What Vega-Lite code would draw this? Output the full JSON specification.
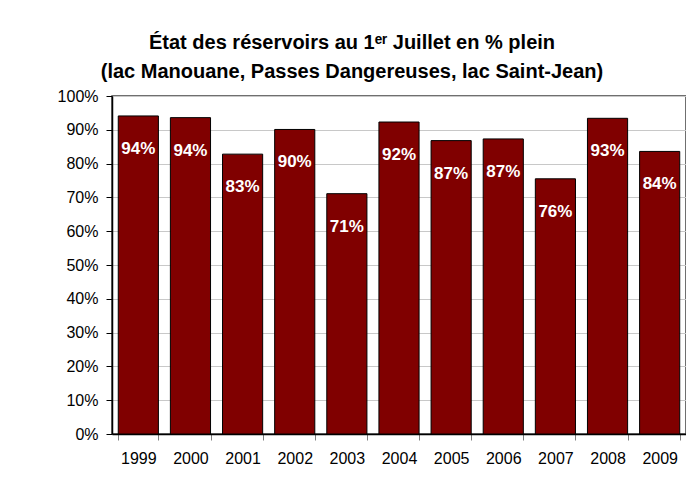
{
  "$schema": "https://vega.github.io/schema/vega-lite/v6.json",
  "autosize": "none",
  "padding": {"left": 112, "top": 96, "right": 0, "bottom": 46},
  "width": 574,
  "height": 338,
  "background": "white",
  "title": {
    "text": ["État des réservoirs au 1ᵉʳ Juillet en % plein", "(lac Manouane, Passes Dangereuses, lac Saint-Jean)"],
    "font": "Liberation Sans",
    "fontSize": 20,
    "fontWeight": "bold",
    "color": "black",
    "lineHeight": 29,
    "anchor": "middle",
    "dx": -47,
    "offset": 6
  },
  "data": {
    "values": [
      {"year": "1999", "value": 0.941},
      {"year": "2000", "value": 0.936},
      {"year": "2001", "value": 0.828},
      {"year": "2002", "value": 0.901},
      {"year": "2003", "value": 0.711},
      {"year": "2004", "value": 0.923},
      {"year": "2005", "value": 0.868},
      {"year": "2006", "value": 0.873},
      {"year": "2007", "value": 0.755},
      {"year": "2008", "value": 0.934},
      {"year": "2009", "value": 0.836}
    ]
  },
  "encoding": {
    "x": {
      "field": "year",
      "type": "ordinal",
      "title": null,
      "scale": {"paddingInner": 0.23, "paddingOuter": 0.12},
      "axis": {
        "tickBand": "extent",
        "labelAngle": 0,
        "labelFont": "Liberation Sans",
        "labelFontSize": 16,
        "labelColor": "black",
        "labelPadding": 10,
        "tickColor": "#808080",
        "tickSize": 6,
        "domainColor": "black",
        "domainWidth": 1.5,
        "grid": false
      }
    },
    "y": {
      "field": "value",
      "type": "quantitative",
      "title": null,
      "scale": {"domain": [0, 1], "nice": false},
      "axis": {
        "values": [0, 0.1, 0.2, 0.3, 0.4, 0.5, 0.6, 0.7, 0.8, 0.9, 1],
        "format": ".0%",
        "labelFont": "Liberation Sans",
        "labelFontSize": 16,
        "labelColor": "black",
        "labelPadding": 8,
        "tickColor": "black",
        "tickSize": 6,
        "domainColor": "black",
        "domainWidth": 1.5,
        "gridColor": "#c8c8c8",
        "gridWidth": 1
      }
    }
  },
  "layer": [
    {
      "mark": {"type": "bar", "fill": "#800000", "stroke": "black", "strokeWidth": 1}
    },
    {
      "mark": {"type": "text", "color": "white", "font": "Liberation Sans", "fontSize": 17, "fontWeight": "bold", "baseline": "middle", "dy": 33},
      "encoding": {
        "text": {"field": "value", "type": "quantitative", "format": ".0%"}
      }
    }
  ],
  "config": {
    "view": {"stroke": "#404040", "strokeWidth": 1.5}
  }
}
